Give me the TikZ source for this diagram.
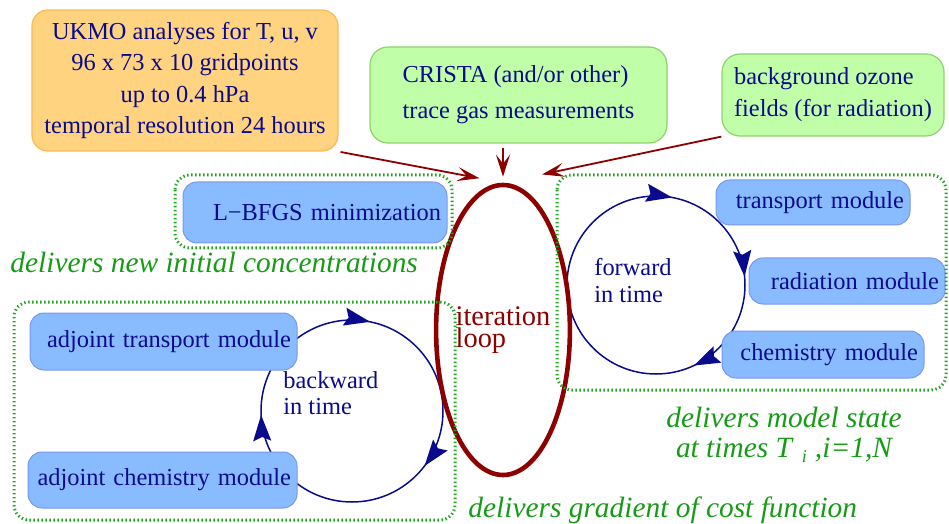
\documentclass[tikz,border=0pt]{standalone}
\usepackage{fontspec}
\setmainfont{Liberation Serif}
\usetikzlibrary{calc,positioning,arrows.meta,shapes.geometric,decorations.markings}
\definecolor{ink}{HTML}{0A0A8C}
\definecolor{loopred}{HTML}{8C0000}
\definecolor{leaf}{HTML}{179B17}
\definecolor{dots}{HTML}{1FA51F}
\definecolor{modfill}{HTML}{88BBFF}
\definecolor{modline}{HTML}{7B96F0}
\definecolor{obsfill}{HTML}{C0FFA8}
\definecolor{obsline}{HTML}{8CD26E}
\definecolor{anafill}{HTML}{FFD380}
\definecolor{analine}{HTML}{FFB950}
\newcommand{\boxfont}{\fontsize{12.2}{15.8}\selectfont}
\newcommand{\notefont}{\fontsize{14.7}{15}\selectfont\itshape}
\tikzset{
  module/.style={rounded corners=7pt,fill=modfill,draw=modline,line width=0.5pt,
    text=ink,font=\boxfont,inner xsep=3pt,inner ysep=0pt,align=right},
  source/.style={rounded corners=9pt,fill=obsfill,draw=obsline,line width=0.6pt,
    text=ink,inner sep=0pt,align=left},
  group/.style={draw=dots,line width=1.5pt,dash pattern=on 0.7pt off 1.3pt,rounded corners=7.5pt},
  remark/.style={text=leaf,font=\notefont,inner sep=0pt},
  feed/.style={-{Stealth[length=11pt,width=7pt,inset=4.5pt]},loopred,line width=0.9pt},
  spin/.style n args={3}{ink,line width=0.75pt,postaction={decorate},
    decoration={markings,
      mark=at position #1 with {\arrow{Stealth[length=13pt,width=9pt,inset=2pt]}},
      mark=at position #2 with {\arrow{Stealth[length=13pt,width=9pt,inset=2pt]}},
      mark=at position #3 with {\arrow{Stealth[length=13pt,width=9pt,inset=2pt]}}}},
}
\begin{document}
\begin{tikzpicture}[x=0.5pt,y=-0.5pt]
\useasboundingbox (0,0) rectangle (949,524);
\clip (0,0) rectangle (949,524);
% time loops, drawn first so the modules cover them
\coordinate (bwd) at (352,411);
\coordinate (fwd) at (656,285);
\draw[spin={0.103}{0.493}{0.782}] (bwd) circle [radius=91];
\draw[spin={0.18}{0.779}{0.985}] (fwd) circle [radius=89];
% iteration loop
\node[ellipse,draw=loopred,line width=2.3pt,minimum width=65.5pt,minimum height=145pt,inner sep=0pt,
  text=loopred,align=left,font=\fontsize{14.2}{11}\selectfont]
  (loop) at (503,330) {iteration\\loop};
% inputs
\node[rounded corners=8pt,fill=anafill,draw=analine,line width=0.6pt,text=ink,inner sep=0pt,
  minimum width=153pt,minimum height=70.5pt,align=center,font=\boxfont]
  (ukmo) at (185,80.5) {UKMO analyses for T, u, v\\ 96 x 73 x 10 gridpoints\\ up to 0.4 hPa\hspace*{19pt}\\ temporal resolution 24 hours};
\node[source,minimum width=148.5pt,minimum height=48pt,font=\fontsize{12.2}{18}\selectfont]
  (crista) at (518.5,95) {CRISTA (and/or other)\\ trace gas measurements};
\node[source,minimum width=111pt,minimum height=41pt,font=\fontsize{12.2}{16}\selectfont]
  (ozone) at (833,95) {background ozone\\ fields (for radiation)};
\draw[feed,shorten <=1pt,shorten >=12pt] (ukmo.south east) -- (loop.north);
\draw[feed,shorten <=2pt,shorten >=3pt] (loop.north |- crista.south) -- (loop.north);
\draw[feed,shorten >=20pt] (ozone.south west) -- (loop.north);
% modules
\node[module,text width=126pt,minimum height=30.5pt] (lbfgs) at (315,212.5) {L−BFGS minimization};
\node[module,text width=127.5pt,minimum height=28.5pt] (atrans) at (163.5,341.5) {adjoint transport module};
\node[module,text width=128.5pt,minimum height=28pt] (achem) at (162.5,480) {adjoint chemistry module};
\node[module,text width=91pt,minimum height=22.5pt] (trans) at (813,202.5) {transport module};
\node[module,text width=92pt,minimum height=23pt] (rad) at (847,281) {radiation module};
\node[module,text width=95pt,minimum height=23.5pt] (chem) at (823,354.5) {chemistry module};
% groups
\draw[group] (175,175) rectangle (452,248);
\draw[group] (14,302) rectangle (455,520);
\draw[group] (557,175) rectangle (946,390);
% labels
\node[anchor=north west,text=ink,align=left,inner sep=0pt,font=\fontsize{12.2}{13}\selectfont]
  (backtxt) at (283,371) {backward\\in time};
\node[anchor=north west,text=ink,align=left,inner sep=0pt,font=\fontsize{12.2}{13.5}\selectfont]
  (fwdtxt) at (594,258) {forward\\in time};
\node[remark,anchor=base west] (newinit) at (10,272) {delivers new initial concentrations};
\node[remark,anchor=base west] (gradient) at (468,517) {delivers gradient of cost function};
\node[remark,anchor=north,align=center] (state) at (784,407)
  {delivers model state\\ at times T\hspace{5pt}\raisebox{-2.5pt}{\fontsize{9}{9}\selectfont i}\hspace{4pt},i=1,N};
\end{tikzpicture}
\end{document}
